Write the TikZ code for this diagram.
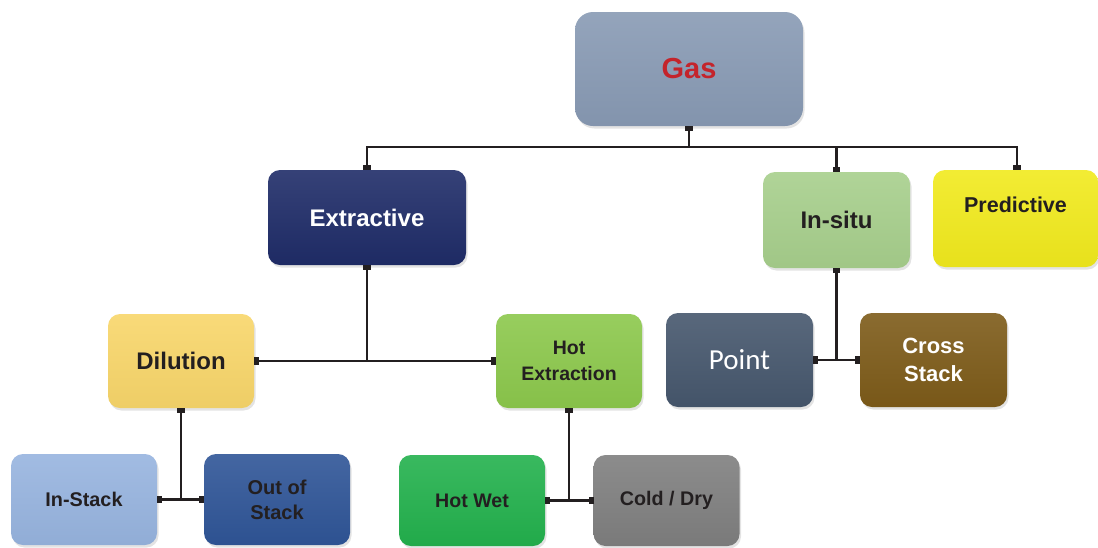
\documentclass[tikz,border=0pt]{standalone}
\usepackage{fontspec}
\setmainfont{Liberation Sans}
\newfontfamily\pointfont{Carlito}
\usetikzlibrary{arrows.meta,shadows}

\definecolor{gasC}{HTML}{889AB4}
\definecolor{gasT}{HTML}{C4242B}
\definecolor{extrC}{HTML}{1F2C68}
\definecolor{insituC}{HTML}{A7CF8C}
\definecolor{predC}{HTML}{F1EA1D}
\definecolor{dilC}{HTML}{F8D66A}
\definecolor{hotxC}{HTML}{8CC84C}
\definecolor{pointC}{HTML}{46576D}
\definecolor{crossC}{HTML}{7D5B19}
\definecolor{instC}{HTML}{97B4DF}
\definecolor{outstC}{HTML}{2F5597}
\definecolor{hotwetC}{HTML}{23B14D}
\definecolor{coldC}{HTML}{7F7F7F}
\definecolor{inkC}{HTML}{231F20}

\tikzset{
  box/.style={rectangle, rounded corners=12pt, inner sep=0pt, align=center,
    font=\bfseries, text=inkC, line width=0pt,
    top color=#1!90!white, bottom color=#1!96!black,
    drop shadow={opacity=0.22, shadow xshift=1.5pt, shadow yshift=-2.5pt}},
  topbox/.style={minimum width=147pt, minimum height=95pt},
  botbox/.style={minimum width=146pt, minimum height=91pt},
  conn/.style={line width=2.8pt, draw=inkC},
  sq/.style={{Square[length=5pt,width=7.5pt]}-{Square[length=5pt,width=7.5pt]}},
  sqe/.style={-{Square[length=5pt,width=7.5pt]}},
  sqs/.style={{Square[length=5pt,width=7.5pt]}-}
}

\begin{document}
\begin{tikzpicture}[x=1pt,y=-1pt]
\useasboundingbox (0,0) rectangle (1098,547);

% level 0
\node[box=gasC, rounded corners=18pt, minimum width=228pt, minimum height=114pt,
      font=\bfseries\fontsize{29}{32}\selectfont, text=gasT] (gas) at (689,69) {Gas};

% level 1
\node[box=extrC, minimum width=198pt, minimum height=95pt, text=white,
      font=\bfseries\fontsize{24}{28}\selectfont] (extr) at (367,217.5) {Extractive};
\node[box=insituC, minimum width=147pt, minimum height=96pt,
      font=\bfseries\fontsize{24}{28}\selectfont] (insitu) at (836.5,220) {In-situ};
\node[box=predC, minimum width=165pt, minimum height=97pt,
      label={[font=\bfseries\fontsize{21.5}{26}\selectfont, text=inkC, yshift=14pt]center:Predictive}]
      (pred) at (1015.5,218.5) {};

% level 2
\node[box=dilC, topbox, minimum width=146pt, minimum height=94pt,
      font=\bfseries\fontsize{24}{28}\selectfont] (dil) at (181,361) {Dilution};
\node[box=hotxC, topbox, minimum width=146pt, minimum height=94pt,
      font=\bfseries\fontsize{19.5}{26}\selectfont] (hotx) at (569,361) {Hot\\Extraction};
\node[box=pointC, topbox, minimum height=94pt, text=white,
      font=\pointfont\fontsize{29}{32}\selectfont] (point) at (739.5,360) {Point};
\node[box=crossC, topbox, minimum height=94pt, text=white,
      font=\bfseries\fontsize{22}{28}\selectfont] (cross) at (933.5,360) {Cross\\Stack};

% level 3
\node[box=instC, botbox, font=\bfseries\fontsize{19.8}{25}\selectfont] (inst) at (84,499.5) {In-Stack};
\node[box=outstC, botbox, font=\bfseries\fontsize{20}{25}\selectfont] (outst) at (277,499.5) {Out of\\Stack};
\node[box=hotwetC, botbox, font=\bfseries\fontsize{19.6}{25}\selectfont] (hotwet) at (472,500.5) {Hot Wet};
\node[box=coldC, botbox, font=\bfseries\fontsize{19.7}{25}\selectfont] (cold) at (666.5,500.5) {Cold / Dry};

% bus under the root
\coordinate (bus) at (689,147);
\draw[conn, sqs] (gas.south) -- (bus);
\draw[conn, sqe] (bus) -| (extr.north);
\draw[conn, sqe] (bus) -| (insitu.north);
\draw[conn, sqe] (bus) -| ([xshift=1.5pt]pred.north);

% extractive branch
\draw[conn, sq] (dil.east) -- (hotx.west);
\draw[conn, sqs] (extr.south) -- (extr.south |- dil.east);

% in-situ branch
\draw[conn, sq] (point.east) -- (cross.west);
\draw[conn, sqs] (insitu.south) -- (insitu.south |- point.east);

% dilution branch
\draw[conn, sq] (inst.east) -- (outst.west);
\draw[conn, sqs] (dil.south) -- (dil.south |- inst.east);

% hot extraction branch
\draw[conn, sq] (hotwet.east) -- (cold.west);
\draw[conn, sqs] (hotx.south) -- (hotx.south |- hotwet.east);
\end{tikzpicture}
\end{document}
